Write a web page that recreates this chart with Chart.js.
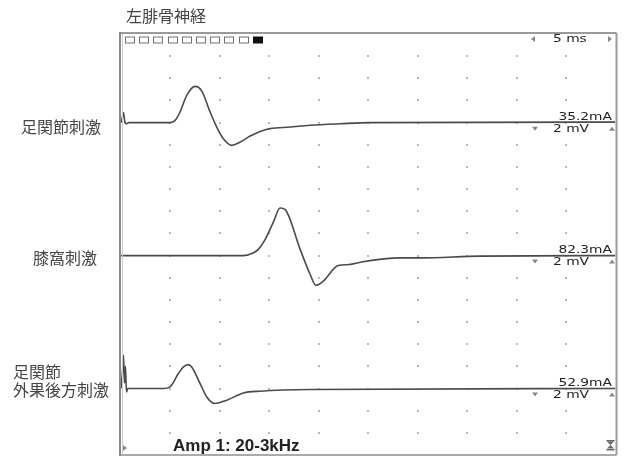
<!DOCTYPE html>
<html>
<head>
<meta charset="utf-8">
<script src="https://cdn.jsdelivr.net/npm/chart.js@4.4.0/dist/chart.umd.min.js"></script>
<style>
  html, body { margin: 0; padding: 0; background: #fff; }
  #wrap { position: relative; width: 624px; height: 457px; overflow: hidden; }
  canvas { position: absolute; left: 0; top: 0; }
  .lbl { position: absolute; font-family: "Noto Sans CJK JP", sans-serif; font-size: 16px; line-height: 16px; color: #444; white-space: nowrap; }
</style>
</head>
<body>
<div id="wrap">
  <canvas id="ncs" width="624" height="457"></canvas>
  <div class="lbl" style="left:126px; top:7px;">左腓骨神経</div>
  <div class="lbl" style="left:21px; top:118px;">足関節刺激</div>
  <div class="lbl" style="left:33px; top:249px;">膝窩刺激</div>
  <div class="lbl" style="left:13px; top:363px;">足関節</div>
  <div class="lbl" style="left:13px; top:381px;">外果後方刺激</div>
</div>
<script>
// time in ms, amplitude in mV relative to each trace baseline
const ankleTime = [0, 0.1, 0.25, 0.4, 0.55, 0.8, 4.96, 5.47, 5.97, 6.65, 7.49, 8.17, 9.01, 9.68, 10.35, 11.2, 12.05, 13.06, 14.07, 15.08, 17.1, 19.1, 22.2, 25.2, 50];
const ankleMv = [0, 0.3, 0.9, 0, -0.1, 0, 0, 0.2, 0.96, 2.46, 3.27, 2.85, 0.96, -0.4, -1.45, -2.05, -1.75, -1.21, -0.79, -0.54, -0.4, -0.24, -0.1, 0, 0.05];

const kneeTime = [0, 12.35, 13.36, 13.87, 14.57, 15.38, 16.09, 16.6, 18.12, 19.13, 19.7, 20.45, 21.96, 23.1, 24.2, 28.2, 30.3, 36.3, 50];
const kneeMv = [0, 0, 0.24, 0.54, 1.44, 2.97, 4.3, 4.15, 0.54, -1.71, -2.68, -2.31, -0.9, -0.81, -0.6, -0.21, -0.21, -0.05, 0];

const malleolusTime = [0, 0.15, 0.25, 0.35, 0.45, 0.55, 0.7, 4.28, 4.96, 5.8, 6.31, 6.81, 7.15, 8.0, 8.67, 9.51, 10.7, 12.38, 14.07, 19.13, 50];
const malleolusMv = [0, 1.5, 3.0, 0.5, 2.0, -0.3, 0, 0, 0.15, 1.35, 1.95, 2.16, 1.95, 0.45, -0.76, -1.35, -1.05, -0.4, -0.24, -0.09, 0];

// screen: 10 x 5 ms, 19 x 2 mV
const timeStep = 5;
const ampStep = 2;
const sweepMax = 50;
const screenMax = 38;
const baselines = [30, 18, 6];
const currents = ['35.2mA', '82.3mA', '52.9mA'];
const sweepLabel = '5 ms';
const gainLabel = '2 mV';
const filterLabel = 'Amp 1: 20-3kHz';

function trace(times, values, base) {
    return times.map((t, i) => ({ x: t, y: values[i] + base }));
}

// the scope font is wide, so stretch a normal sans
function wideText(ctx, str, x, y, align) {
    ctx.save();
    ctx.font = '10px "DejaVu Sans"';
    ctx.textBaseline = 'middle';
    const w = ctx.measureText(str).width * 1.38;
    const left = align === 'right' ? x - w : x;
    ctx.translate(left, y);
    ctx.scale(1.38, 1);
    ctx.textAlign = 'left';
    ctx.fillText(str, 0, 0);
    ctx.restore();
}

function tri(ctx, cx, cy, dir) {
    ctx.beginPath();
    if (dir === 'down') { ctx.moveTo(cx - 3, cy - 2); ctx.lineTo(cx + 3, cy - 2); ctx.lineTo(cx, cy + 2); }
    if (dir === 'up') { ctx.moveTo(cx - 3, cy + 2); ctx.lineTo(cx + 3, cy + 2); ctx.lineTo(cx, cy - 2); }
    if (dir === 'left') { ctx.moveTo(cx + 2, cy - 3); ctx.lineTo(cx + 2, cy + 3); ctx.lineTo(cx - 2, cy); }
    if (dir === 'right') { ctx.moveTo(cx - 2, cy - 3); ctx.lineTo(cx - 2, cy + 3); ctx.lineTo(cx + 2, cy); }
    ctx.closePath();
    ctx.fill();
}

const scopePlugin = {
    id: 'scope',
    beforeDatasetsDraw(chart) {
        const { ctx, scales: { x, y } } = chart;
        ctx.save();
        ctx.fillStyle = '#b8b8b8';
        for (let t = timeStep; t < sweepMax; t += timeStep) {
            for (let v = ampStep; v < screenMax; v += ampStep) {
                ctx.fillRect(Math.round(x.getPixelForValue(t)) - 1, Math.round(y.getPixelForValue(v)) - 1, 2, 2);
            }
        }
        ctx.restore();
    },
    afterDraw(chart) {
        const { ctx, chartArea: a, scales: { y } } = chart;
        ctx.save();

        // frame
        ctx.strokeStyle = '#9a9a9a';
        ctx.lineWidth = 2;
        ctx.beginPath();
        ctx.moveTo(a.left - 2, a.top - 1); ctx.lineTo(a.right + 1, a.top - 1);
        ctx.moveTo(a.right + 1, a.top - 1); ctx.lineTo(a.right + 1, a.bottom);
        ctx.stroke();
        ctx.strokeStyle = '#aaaaaa';
        ctx.beginPath();
        ctx.moveTo(a.left - 2, a.bottom); ctx.lineTo(a.right + 1, a.bottom);
        ctx.stroke();
        ctx.strokeStyle = '#8a8a8a';
        ctx.beginPath();
        ctx.moveTo(a.left - 1, a.top - 2); ctx.lineTo(a.left - 1, a.bottom + 1);
        ctx.stroke();
        ctx.strokeStyle = '#cccccc';
        ctx.lineWidth = 1;
        ctx.beginPath();
        ctx.moveTo(a.left + 1.5, a.top); ctx.lineTo(a.left + 1.5, a.bottom);
        ctx.stroke();

        // sweep boxes
        const top = a.top + 2.5;
        for (let i = 0; i < 10; i++) {
            const bx = Math.round(a.left + 4 + i * 14.2);
            if (i === 9) {
                ctx.fillStyle = '#111';
                ctx.fillRect(bx, top, 10, 7);
            } else {
                ctx.strokeStyle = '#707070';
                ctx.strokeRect(bx + 0.5, top + 0.5, 9, 6);
            }
        }

        // sweep speed
        ctx.fillStyle = '#888';
        tri(ctx, 533, a.top + 5, 'left');
        tri(ctx, 610, a.top + 5, 'right');
        ctx.fillStyle = '#222';
        wideText(ctx, sweepLabel, 553, a.top + 5, 'left');

        // per-trace stimulus and gain
        baselines.forEach((b, i) => {
            const py = y.getPixelForValue(b);
            ctx.fillStyle = '#222';
            wideText(ctx, currents[i], 612, py - 5.5, 'right');
            wideText(ctx, gainLabel, 553, py + 6.5, 'left');
            ctx.fillStyle = '#888';
            tri(ctx, 535, py + 6, 'down');
            tri(ctx, 612, py + 6, 'up');
        });

        // filter label
        ctx.fillStyle = '#222';
        ctx.font = 'bold 17px "Liberation Sans"';
        ctx.textBaseline = 'middle';
        ctx.textAlign = 'left';
        ctx.fillText(filterLabel, 173, a.bottom - 9);

        // corner marks
        ctx.fillStyle = '#888';
        tri(ctx, a.left + 4, a.bottom - 7, 'right');
        ctx.fillStyle = '#666';
        const hx = a.right - 5, hy = a.bottom - 10;
        ctx.fillRect(hx - 4, hy - 5, 8, 1.5);
        ctx.fillRect(hx - 4, hy + 4, 8, 1.5);
        ctx.beginPath();
        ctx.moveTo(hx - 3.5, hy - 3.5); ctx.lineTo(hx + 3.5, hy - 3.5); ctx.lineTo(hx, hy);
        ctx.moveTo(hx - 3.5, hy + 3.5); ctx.lineTo(hx + 3.5, hy + 3.5); ctx.lineTo(hx, hy);
        ctx.fill();

        ctx.restore();
    }
};

const lineStyle = {
    borderColor: '#4a4a4a',
    borderWidth: 1.6,
    pointRadius: 0,
    cubicInterpolationMode: 'monotone',
    fill: false
};

new Chart(document.getElementById('ncs').getContext('2d'), {
    type: 'line',
    data: {
        datasets: [
            { label: '足関節刺激', data: trace(ankleTime, ankleMv, baselines[0]), ...lineStyle },
            { label: '膝窩刺激', data: trace(kneeTime, kneeMv, baselines[1]), ...lineStyle },
            { label: '足関節 外果後方刺激', data: trace(malleolusTime, malleolusMv, baselines[2]), ...lineStyle }
        ]
    },
    options: {
        responsive: false,
        animation: false,
        layout: { padding: { left: 121, top: 34, right: 8.5, bottom: 2 } },
        plugins: { legend: { display: false }, tooltip: { enabled: false } },
        scales: {
            x: { type: 'linear', min: 0, max: sweepMax, display: false },
            y: { type: 'linear', min: 0, max: screenMax, display: false }
        }
    },
    plugins: [scopePlugin]
});
</script>
</body>
</html>
